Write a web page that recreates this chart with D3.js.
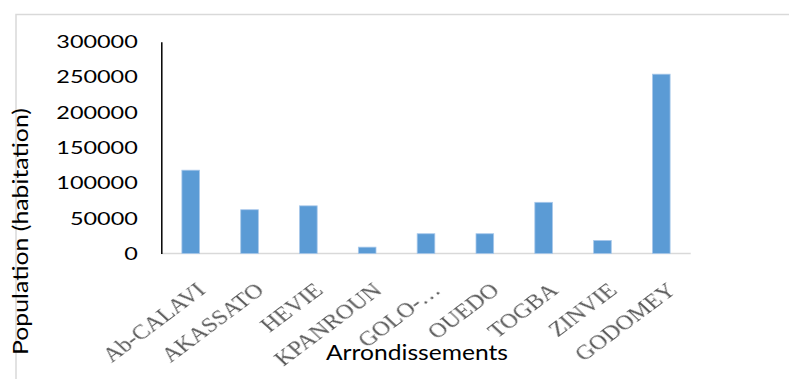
<!DOCTYPE html>
<html>
<head>
<meta charset="utf-8">
<script src="https://cdn.jsdelivr.net/npm/d3@7"></script>
<style>
  html, body { margin: 0; padding: 0; background: #ffffff; }
  svg { display: block; }
</style>
</head>
<body>
<svg id="chart" width="789" height="379"></svg>
<script>
// Population per arrondissement
const categories = ["Ab-CALAVI", "AKASSATO", "HEVIE", "KPANROUN", "GOLO-…", "OUEDO", "TOGBA", "ZINVIE", "GODOMEY"];
const population = [118000, 62000, 67500, 9000, 28000, 28000, 72500, 18500, 254000];
const yTicks = [0, 50000, 100000, 150000, 200000, 250000, 300000];
const yTitle = "Population (habitation)";
const xTitle = "Arrondissements";

const svg = d3.select("#chart");

const plot = { left: 161.3, right: 690.7, top: 41.7, bottom: 253.5 };

const x = d3.scaleBand()
  .domain(categories)
  .range([plot.left, plot.right])
  .paddingInner(0.7)
  .paddingOuter(0.35);

const y = d3.scaleLinear()
  .domain([0, 300000])
  .range([plot.bottom, plot.top]);

// soft edge for the category labels
const defs = svg.append("defs");
defs.append("filter").attr("id", "soft")
  .attr("x", "-10%").attr("y", "-10%").attr("width", "120%").attr("height", "120%")
  .append("feGaussianBlur").attr("stdDeviation", 0.45);

// chart frame
svg.append("rect")
  .attr("x", 16).attr("y", 14.5)
  .attr("width", 800).attr("height", 400)
  .attr("fill", "none")
  .attr("stroke", "#d9d9d9")
  .attr("stroke-width", 1.5);

// category baseline
svg.append("line")
  .attr("x1", plot.left).attr("x2", plot.right)
  .attr("y1", y(0)).attr("y2", y(0))
  .attr("stroke", "#d9d9d9").attr("stroke-width", 1.5);

// bars
svg.append("g").selectAll("rect")
  .data(population)
  .join("rect")
  .attr("x", (d, i) => x(categories[i]))
  .attr("width", x.bandwidth())
  .attr("y", d => y(d))
  .attr("height", d => y(0) - y(d))
  .attr("fill", "#5b9bd5")
  .attr("stroke", "#a8c8ea")
  .attr("stroke-width", 0.8);

// value axis
const yAxis = svg.append("g")
  .attr("transform", `translate(${plot.left},0)`)
  .call(d3.axisLeft(y).tickValues(yTicks).tickSize(0).tickFormat(d3.format("d")));

yAxis.select(".domain")
  .attr("stroke", "#000000")
  .attr("stroke-width", 1.5);

yAxis.selectAll(".tick text")
  .attr("x", 0)
  .attr("dy", "0.36em")
  .attr("transform", "translate(-23.5,0) scale(1.42,1)")
  .attr("fill", "#000000")
  .style("font-family", "Lato, 'Open Sans', sans-serif")
  .style("font-size", "16.5px")
  .attr("text-anchor", "end");

// category labels, slanted
svg.append("g").selectAll("text")
  .data(categories)
  .join("text")
  .attr("transform", d => `translate(${x(d) + x.bandwidth() / 2 + 16},292) scale(1.2,1) rotate(-42)`)
  .attr("text-anchor", "end")
  .attr("fill", "#5a5a5a")
  .attr("filter", "url(#soft)")
  .style("font-family", "'Liberation Serif', 'Times New Roman', serif")
  .style("font-size", "20.5px")
  .text(d => d);

// axis titles
svg.append("text")
  .attr("x", 417).attr("y", 360)
  .attr("text-anchor", "middle")
  .attr("textLength", 182)
  .attr("lengthAdjust", "spacingAndGlyphs")
  .attr("fill", "#000000")
  .style("font-family", "Lato, 'Open Sans', sans-serif")
  .style("font-size", "22px")
  .text(xTitle);

svg.append("text")
  .attr("transform", "translate(27.5,231.5) rotate(-90)")
  .attr("text-anchor", "middle")
  .attr("textLength", 247)
  .attr("lengthAdjust", "spacingAndGlyphs")
  .attr("fill", "#000000")
  .style("font-family", "Lato, 'Open Sans', sans-serif")
  .style("font-size", "22px")
  .text(yTitle);
</script>
</body>
</html>
